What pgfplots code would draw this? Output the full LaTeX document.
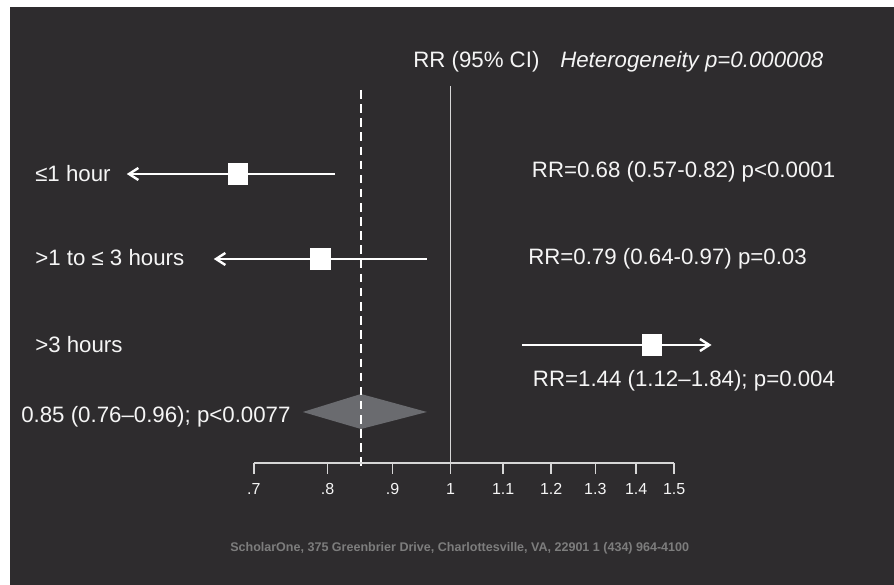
\documentclass[border=0pt]{standalone}
\usepackage{pgfplots}
\pgfplotsset{compat=1.18}
\usepackage{fontspec}
\setmainfont{Liberation Sans}
\usetikzlibrary{arrows.meta}
\definecolor{bg}{RGB}{46,44,46}
\definecolor{dgray}{RGB}{106,107,111}
\definecolor{axgray}{RGB}{215,215,215}
\definecolor{txt}{RGB}{245,245,245}
\definecolor{foot}{RGB}{125,125,125}
\begin{document}
\begin{tikzpicture}[x=0.75pt,y=0.75pt]
\fill[white] (0,0) rectangle (894,585);
\fill[bg] (10,0) rectangle (894,578);
\begin{axis}[
  at={(0,0)}, anchor=south west,
  scale only axis, width=670.5pt, height=438.75pt,
  xmode=log, xmin=0.44180, xmax=2.2342, ymin=0, ymax=585,
  hide axis, clip=false]
  \coordinate (ax0) at (axis cs:0.7,122);
  % reference line at RR = 1
  \addplot[color=axgray, line width=1pt] coordinates {(1,499) (1,122)};
  % pooled estimate diamond
  \addplot[fill=dgray, draw=none] coordinates {(0.765,173) (0.85,191) (0.958,173) (0.85,156) (0.765,173)};
  % pooled estimate dashed line
  \addplot[white, line width=1.5pt, dash pattern=on 6.4pt off 4.2pt] coordinates {(0.85,495) (0.85,115)};
  % confidence intervals
  \addplot[white, line width=1.8pt, -{Straight Barb[length=7pt,width=9pt]}] coordinates {(0.811,411) (0.556,411)};
  \addplot[white, line width=1.8pt, -{Straight Barb[length=7pt,width=9pt]}] coordinates {(0.958,326) (0.651,326)};
  \addplot[white, line width=1.8pt, -{Straight Barb[length=7pt,width=9pt]}] coordinates {(1.138,240) (1.605,240)};
  % point estimates
  \addplot[only marks, mark=square*, mark size=7.3pt, mark options={draw=white, fill=white, yscale=1.08}] coordinates {(0.68,411) (0.79,326) (1.44,240)};
\end{axis}
\begin{axis}[
  at={(ax0)}, anchor=south west,
  scale only axis, width=315.3pt, height=10pt,
  xmode=log, xmin=0.7, xmax=1.5, ymin=0, ymax=1,
  axis x line=bottom, axis y line=none,
  x axis line style={-, color=axgray, line width=1.1pt},
  xtick={0.7,0.8,0.9,1,1.1,1.2,1.3,1.4,1.5},
  xticklabels={.7,.8,.9,1,1.1,1.2,1.3,1.4,1.5},
  minor xtick={}, ytick=\empty,
  tick align=outside, major tick length=8.25pt,
  every tick/.style={color=axgray, line width=1.1pt},
  xticklabel style={font=\fontsize{12}{14}\selectfont, text=txt, anchor=base, inner sep=0pt, yshift=-15.2pt},
  clip=false]
  \addplot[draw=none] coordinates {(1,0.5)};
\end{axis}
\begin{scope}[every node/.style={anchor=base west, inner sep=0pt, text=txt, font=\fontsize{16.7}{20}\selectfont}]
  \node at (413,517) {RR (95\% CI)};
  \node at (560,517) {\itshape Heterogeneity p=0.000008};
  \node at (35,403.3) {≤1 hour};
  \node at (35,319) {>1 to ≤ 3 hours};
  \node at (35,232.3) {>3 hours};
  \node at (21,162.3) {0.85 (0.76–0.96); p<0.0077};
  \node at (531.7,407.7) {RR=0.68 (0.57-0.82) p<0.0001};
  \node at (528,320) {RR=0.79 (0.64-0.97) p=0.03};
  \node at (532.7,198.3) {RR=1.44 (1.12–1.84); p=0.004};
  \node[text=foot, font=\fontsize{9.4}{11}\selectfont\bfseries] at (230,33.6) {ScholarOne, 375 Greenbrier Drive, Charlottesville, VA, 22901 1 (434) 964-4100};
\end{scope}
\end{tikzpicture}
\end{document}
